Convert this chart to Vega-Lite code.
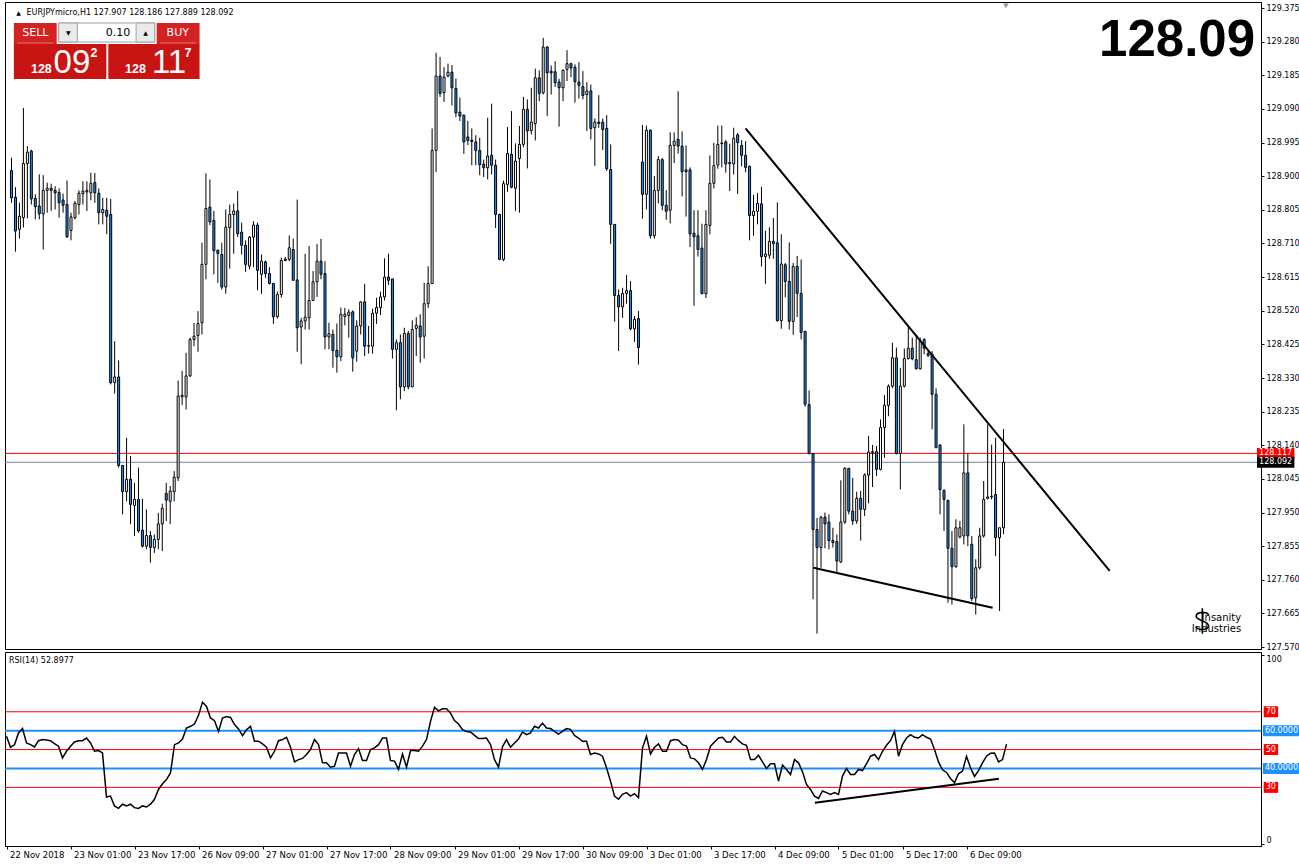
{
"$schema": "https://vega.github.io/schema/vega-lite/v6.json",
"usermeta": {"embedOptions": {"actions": false}},
"background": "white",
"padding": {"left": 3, "top": 1, "right": 0, "bottom": 0},
"spacing": 3,
"bounds": "flush",
"config": {"view": {"stroke": "#000", "strokeWidth": 1}, "axis": {"labelFont": "DejaVu Sans", "labelFontSize": 8, "labelColor": "#000", "domainColor": "#000", "tickColor": "#000", "grid": false, "labelOverlap": false}},
"datasets": {"bars": [
{"i":0,"o":128.916,"h":128.952,"l":128.825,"c":128.839,"r":57.0},
{"i":1,"o":128.841,"h":128.869,"l":128.687,"c":128.745,"r":51.2},
{"i":2,"o":128.750,"h":128.825,"l":128.724,"c":128.787,"r":52.6},
{"i":3,"o":128.783,"h":129.093,"l":128.755,"c":128.936,"r":58.8},
{"i":4,"o":128.936,"h":128.985,"l":128.781,"c":128.968,"r":61.1},
{"i":5,"o":128.971,"h":128.975,"l":128.820,"c":128.836,"r":53.5},
{"i":6,"o":128.837,"h":128.849,"l":128.778,"c":128.814,"r":52.6},
{"i":7,"o":128.816,"h":128.905,"l":128.778,"c":128.794,"r":51.4},
{"i":8,"o":128.794,"h":128.903,"l":128.693,"c":128.860,"r":54.7},
{"i":9,"o":128.860,"h":128.882,"l":128.797,"c":128.866,"r":55.3},
{"i":10,"o":128.866,"h":128.879,"l":128.802,"c":128.860,"r":55.1},
{"i":11,"o":128.860,"h":128.872,"l":128.806,"c":128.853,"r":54.7},
{"i":12,"o":128.854,"h":128.866,"l":128.783,"c":128.825,"r":53.2},
{"i":13,"o":128.833,"h":128.851,"l":128.797,"c":128.818,"r":51.8},
{"i":14,"o":128.820,"h":128.888,"l":128.726,"c":128.729,"r":45.6},
{"i":15,"o":128.747,"h":128.797,"l":128.719,"c":128.785,"r":49.1},
{"i":16,"o":128.783,"h":128.830,"l":128.778,"c":128.824,"r":51.8},
{"i":17,"o":128.820,"h":128.860,"l":128.792,"c":128.852,"r":54.0},
{"i":18,"o":128.851,"h":128.886,"l":128.820,"c":128.858,"r":54.7},
{"i":19,"o":128.856,"h":128.886,"l":128.802,"c":128.860,"r":54.7},
{"i":20,"o":128.853,"h":128.910,"l":128.832,"c":128.880,"r":56.1},
{"i":21,"o":128.882,"h":128.909,"l":128.825,"c":128.853,"r":53.5},
{"i":22,"o":128.852,"h":128.866,"l":128.764,"c":128.797,"r":49.1},
{"i":23,"o":128.797,"h":128.839,"l":128.764,"c":128.806,"r":49.5},
{"i":24,"o":128.804,"h":128.839,"l":128.736,"c":128.787,"r":48.2},
{"i":25,"o":128.792,"h":128.836,"l":128.312,"c":128.317,"r":24.9},
{"i":26,"o":128.317,"h":128.434,"l":128.286,"c":128.333,"r":25.4},
{"i":27,"o":128.333,"h":128.380,"l":128.077,"c":128.083,"r":20.2},
{"i":28,"o":128.083,"h":128.083,"l":127.945,"c":128.009,"r":18.9},
{"i":29,"o":128.009,"h":128.161,"l":127.982,"c":128.044,"r":21.1},
{"i":30,"o":128.044,"h":128.110,"l":127.917,"c":127.973,"r":20.2},
{"i":31,"o":127.970,"h":128.034,"l":127.884,"c":127.987,"r":21.1},
{"i":32,"o":127.987,"h":128.077,"l":127.893,"c":127.898,"r":19.3},
{"i":33,"o":127.900,"h":127.989,"l":127.851,"c":127.855,"r":18.9},
{"i":34,"o":127.855,"h":127.959,"l":127.846,"c":127.885,"r":20.2},
{"i":35,"o":127.885,"h":127.898,"l":127.808,"c":127.851,"r":19.6},
{"i":36,"o":127.851,"h":127.888,"l":127.836,"c":127.874,"r":21.1},
{"i":37,"o":127.874,"h":127.949,"l":127.846,"c":127.918,"r":23.7},
{"i":38,"o":127.918,"h":127.975,"l":127.841,"c":127.962,"r":28.9},
{"i":39,"o":128.004,"h":128.034,"l":127.926,"c":127.985,"r":31.9},
{"i":40,"o":127.982,"h":128.025,"l":127.917,"c":128.011,"r":34.2},
{"i":41,"o":128.009,"h":128.067,"l":127.982,"c":128.050,"r":37.7},
{"i":42,"o":128.048,"h":128.323,"l":128.039,"c":128.279,"r":52.6},
{"i":43,"o":128.277,"h":128.350,"l":128.254,"c":128.281,"r":53.5},
{"i":44,"o":128.277,"h":128.401,"l":128.241,"c":128.336,"r":55.6},
{"i":45,"o":128.336,"h":128.444,"l":128.333,"c":128.439,"r":61.4},
{"i":46,"o":128.439,"h":128.486,"l":128.420,"c":128.448,"r":62.3},
{"i":47,"o":128.450,"h":128.519,"l":128.404,"c":128.484,"r":63.5},
{"i":48,"o":128.486,"h":128.712,"l":128.453,"c":128.651,"r":68.1},
{"i":49,"o":128.651,"h":128.908,"l":128.609,"c":128.809,"r":75.1},
{"i":50,"o":128.813,"h":128.891,"l":128.762,"c":128.771,"r":72.8},
{"i":51,"o":128.775,"h":128.802,"l":128.623,"c":128.690,"r":66.7},
{"i":52,"o":128.691,"h":128.693,"l":128.599,"c":128.682,"r":65.3},
{"i":53,"o":128.679,"h":128.712,"l":128.580,"c":128.587,"r":59.6},
{"i":54,"o":128.587,"h":128.806,"l":128.568,"c":128.756,"r":66.7},
{"i":55,"o":128.755,"h":128.820,"l":128.639,"c":128.792,"r":67.5},
{"i":56,"o":128.792,"h":128.823,"l":128.681,"c":128.802,"r":67.0},
{"i":57,"o":128.802,"h":128.858,"l":128.728,"c":128.738,"r":63.2},
{"i":58,"o":128.742,"h":128.769,"l":128.679,"c":128.705,"r":60.9},
{"i":59,"o":128.705,"h":128.719,"l":128.630,"c":128.651,"r":57.4},
{"i":60,"o":128.646,"h":128.731,"l":128.637,"c":128.728,"r":60.5},
{"i":61,"o":128.728,"h":128.773,"l":128.643,"c":128.762,"r":62.3},
{"i":62,"o":128.762,"h":128.769,"l":128.578,"c":128.634,"r":54.4},
{"i":63,"o":128.623,"h":128.679,"l":128.568,"c":128.660,"r":54.4},
{"i":64,"o":128.658,"h":128.662,"l":128.613,"c":128.625,"r":53.0},
{"i":65,"o":128.625,"h":128.643,"l":128.594,"c":128.597,"r":51.2},
{"i":66,"o":128.597,"h":128.599,"l":128.483,"c":128.503,"r":45.6},
{"i":67,"o":128.503,"h":128.574,"l":128.498,"c":128.566,"r":49.1},
{"i":68,"o":128.566,"h":128.670,"l":128.557,"c":128.662,"r":54.7},
{"i":69,"o":128.666,"h":128.672,"l":128.660,"c":128.662,"r":55.3},
{"i":70,"o":128.665,"h":128.733,"l":128.660,"c":128.698,"r":56.5},
{"i":71,"o":128.693,"h":128.724,"l":128.606,"c":128.606,"r":51.2},
{"i":72,"o":128.607,"h":128.834,"l":128.404,"c":128.472,"r":43.5},
{"i":73,"o":128.474,"h":128.500,"l":128.369,"c":128.491,"r":44.7},
{"i":74,"o":128.491,"h":128.681,"l":128.467,"c":128.502,"r":45.3},
{"i":75,"o":128.500,"h":128.703,"l":128.467,"c":128.549,"r":47.4},
{"i":76,"o":128.549,"h":128.632,"l":128.549,"c":128.602,"r":50.0},
{"i":77,"o":128.602,"h":128.709,"l":128.559,"c":128.660,"r":55.3},
{"i":78,"o":128.660,"h":128.723,"l":128.609,"c":128.623,"r":52.6},
{"i":79,"o":128.625,"h":128.660,"l":128.411,"c":128.446,"r":43.0},
{"i":80,"o":128.446,"h":128.486,"l":128.411,"c":128.455,"r":43.0},
{"i":81,"o":128.453,"h":128.467,"l":128.359,"c":128.408,"r":40.7},
{"i":82,"o":128.408,"h":128.484,"l":128.345,"c":128.390,"r":41.2},
{"i":83,"o":128.390,"h":128.529,"l":128.378,"c":128.510,"r":48.2},
{"i":84,"o":128.504,"h":128.528,"l":128.479,"c":128.510,"r":48.2},
{"i":85,"o":128.507,"h":128.524,"l":128.444,"c":128.516,"r":48.2},
{"i":86,"o":128.517,"h":128.521,"l":128.348,"c":128.387,"r":41.2},
{"i":87,"o":128.406,"h":128.493,"l":128.376,"c":128.477,"r":47.4},
{"i":88,"o":128.477,"h":128.547,"l":128.453,"c":128.545,"r":50.5},
{"i":89,"o":128.545,"h":128.596,"l":128.392,"c":128.420,"r":44.2},
{"i":90,"o":128.420,"h":128.477,"l":128.399,"c":128.422,"r":44.2},
{"i":91,"o":128.420,"h":128.526,"l":128.399,"c":128.513,"r":50.0},
{"i":92,"o":128.513,"h":128.557,"l":128.483,"c":128.529,"r":50.9},
{"i":93,"o":128.529,"h":128.574,"l":128.508,"c":128.559,"r":52.6},
{"i":94,"o":128.559,"h":128.668,"l":128.549,"c":128.615,"r":56.1},
{"i":95,"o":128.615,"h":128.681,"l":128.593,"c":128.606,"r":56.1},
{"i":96,"o":128.610,"h":128.610,"l":128.385,"c":128.411,"r":44.2},
{"i":97,"o":128.411,"h":128.439,"l":128.239,"c":128.430,"r":43.9},
{"i":98,"o":128.430,"h":128.453,"l":128.270,"c":128.305,"r":39.5},
{"i":99,"o":128.305,"h":128.472,"l":128.293,"c":128.456,"r":47.7},
{"i":100,"o":128.456,"h":128.463,"l":128.298,"c":128.305,"r":40.7},
{"i":101,"o":128.305,"h":128.493,"l":128.305,"c":128.467,"r":49.5},
{"i":102,"o":128.470,"h":128.502,"l":128.392,"c":128.479,"r":49.5},
{"i":103,"o":128.477,"h":128.510,"l":128.373,"c":128.446,"r":49.1},
{"i":104,"o":128.448,"h":128.599,"l":128.385,"c":128.540,"r":51.8},
{"i":105,"o":128.540,"h":128.646,"l":128.528,"c":128.597,"r":55.3},
{"i":106,"o":128.597,"h":129.035,"l":128.597,"c":128.973,"r":64.9},
{"i":107,"o":128.973,"h":129.249,"l":128.912,"c":129.183,"r":72.3},
{"i":108,"o":129.183,"h":129.237,"l":129.124,"c":129.134,"r":70.5},
{"i":109,"o":129.136,"h":129.208,"l":129.110,"c":129.180,"r":71.6},
{"i":110,"o":129.183,"h":129.218,"l":129.180,"c":129.194,"r":71.6},
{"i":111,"o":129.194,"h":129.214,"l":129.100,"c":129.150,"r":69.3},
{"i":112,"o":129.148,"h":129.176,"l":129.067,"c":129.079,"r":65.3},
{"i":113,"o":129.081,"h":129.122,"l":129.056,"c":129.070,"r":63.5},
{"i":114,"o":129.072,"h":129.075,"l":128.963,"c":128.997,"r":60.5},
{"i":115,"o":129.011,"h":129.056,"l":128.988,"c":129.001,"r":59.6},
{"i":116,"o":129.002,"h":129.035,"l":128.931,"c":128.998,"r":59.3},
{"i":117,"o":128.997,"h":129.016,"l":128.931,"c":128.973,"r":57.5},
{"i":118,"o":128.973,"h":129.009,"l":128.903,"c":128.933,"r":55.8},
{"i":119,"o":128.934,"h":128.947,"l":128.898,"c":128.924,"r":55.8},
{"i":120,"o":128.924,"h":129.065,"l":128.891,"c":128.957,"r":56.1},
{"i":121,"o":128.959,"h":129.105,"l":128.905,"c":128.931,"r":52.6},
{"i":122,"o":128.931,"h":128.947,"l":128.754,"c":128.792,"r":44.7},
{"i":123,"o":128.792,"h":128.794,"l":128.663,"c":128.665,"r":40.7},
{"i":124,"o":128.665,"h":128.888,"l":128.660,"c":128.879,"r":51.5},
{"i":125,"o":128.877,"h":129.039,"l":128.856,"c":128.964,"r":55.3},
{"i":126,"o":128.962,"h":129.084,"l":128.866,"c":128.869,"r":51.2},
{"i":127,"o":128.866,"h":128.993,"l":128.802,"c":128.943,"r":53.5},
{"i":128,"o":128.950,"h":129.042,"l":128.797,"c":128.990,"r":55.6},
{"i":129,"o":128.990,"h":129.124,"l":128.982,"c":129.089,"r":59.3},
{"i":130,"o":129.089,"h":129.117,"l":128.922,"c":129.028,"r":57.9},
{"i":131,"o":129.029,"h":129.150,"l":129.018,"c":129.053,"r":58.8},
{"i":132,"o":129.049,"h":129.204,"l":129.001,"c":129.178,"r":62.3},
{"i":133,"o":129.178,"h":129.199,"l":129.112,"c":129.134,"r":61.4},
{"i":134,"o":129.136,"h":129.291,"l":129.131,"c":129.265,"r":64.0},
{"i":135,"o":129.265,"h":129.268,"l":129.070,"c":129.192,"r":61.4},
{"i":136,"o":129.197,"h":129.213,"l":129.131,"c":129.192,"r":61.1},
{"i":137,"o":129.195,"h":129.225,"l":129.152,"c":129.164,"r":59.6},
{"i":138,"o":129.166,"h":129.175,"l":129.040,"c":129.150,"r":58.2},
{"i":139,"o":129.150,"h":129.202,"l":129.112,"c":129.199,"r":59.6},
{"i":140,"o":129.202,"h":129.256,"l":129.169,"c":129.218,"r":61.1},
{"i":141,"o":129.218,"h":129.221,"l":129.180,"c":129.206,"r":60.7},
{"i":142,"o":129.208,"h":129.216,"l":129.108,"c":129.167,"r":57.5},
{"i":143,"o":129.166,"h":129.222,"l":129.119,"c":129.157,"r":56.1},
{"i":144,"o":129.153,"h":129.197,"l":129.117,"c":129.128,"r":54.4},
{"i":145,"o":129.131,"h":129.166,"l":129.028,"c":129.141,"r":54.4},
{"i":146,"o":129.141,"h":129.159,"l":129.004,"c":129.035,"r":47.4},
{"i":147,"o":129.037,"h":129.063,"l":128.929,"c":129.053,"r":48.2},
{"i":148,"o":129.053,"h":129.129,"l":129.037,"c":129.049,"r":47.7},
{"i":149,"o":129.053,"h":129.063,"l":128.974,"c":129.032,"r":46.5},
{"i":150,"o":129.035,"h":129.073,"l":128.915,"c":128.921,"r":40.4},
{"i":151,"o":128.919,"h":128.990,"l":128.709,"c":128.764,"r":33.3},
{"i":152,"o":128.764,"h":128.764,"l":128.489,"c":128.563,"r":25.4},
{"i":153,"o":128.563,"h":128.580,"l":128.406,"c":128.531,"r":23.7},
{"i":154,"o":128.531,"h":128.585,"l":128.500,"c":128.569,"r":26.3},
{"i":155,"o":128.569,"h":128.621,"l":128.540,"c":128.577,"r":27.2},
{"i":156,"o":128.577,"h":128.604,"l":128.465,"c":128.469,"r":25.4},
{"i":157,"o":128.469,"h":128.505,"l":128.432,"c":128.496,"r":26.7},
{"i":158,"o":128.498,"h":128.519,"l":128.368,"c":128.416,"r":24.6},
{"i":159,"o":128.940,"h":129.045,"l":128.780,"c":128.849,"r":50.9},
{"i":160,"o":128.849,"h":129.043,"l":128.806,"c":129.030,"r":57.0},
{"i":161,"o":129.030,"h":129.032,"l":128.724,"c":128.732,"r":47.7},
{"i":162,"o":128.732,"h":128.901,"l":128.724,"c":128.860,"r":51.2},
{"i":163,"o":128.860,"h":128.957,"l":128.823,"c":128.947,"r":53.0},
{"i":164,"o":128.947,"h":128.952,"l":128.804,"c":128.818,"r":49.1},
{"i":165,"o":128.818,"h":128.861,"l":128.777,"c":128.801,"r":49.1},
{"i":166,"o":128.804,"h":129.024,"l":128.767,"c":128.987,"r":54.7},
{"i":167,"o":128.987,"h":129.024,"l":128.937,"c":128.999,"r":55.3},
{"i":168,"o":129.004,"h":129.140,"l":128.964,"c":128.985,"r":54.9},
{"i":169,"o":128.985,"h":129.027,"l":128.843,"c":128.913,"r":52.6},
{"i":170,"o":128.918,"h":128.987,"l":128.786,"c":128.913,"r":51.8},
{"i":171,"o":128.918,"h":128.925,"l":128.700,"c":128.737,"r":45.6},
{"i":172,"o":128.739,"h":128.804,"l":128.534,"c":128.729,"r":45.1},
{"i":173,"o":128.732,"h":128.804,"l":128.673,"c":128.693,"r":43.0},
{"i":174,"o":128.697,"h":128.766,"l":128.568,"c":128.568,"r":39.5},
{"i":175,"o":128.568,"h":128.804,"l":128.556,"c":128.764,"r":44.7},
{"i":176,"o":128.761,"h":128.959,"l":128.736,"c":128.880,"r":51.8},
{"i":177,"o":128.880,"h":128.994,"l":128.865,"c":128.930,"r":54.0},
{"i":178,"o":128.932,"h":129.043,"l":128.921,"c":128.990,"r":56.1},
{"i":179,"o":128.992,"h":129.043,"l":128.925,"c":128.994,"r":56.5},
{"i":180,"o":128.997,"h":129.002,"l":128.910,"c":128.935,"r":54.0},
{"i":181,"o":128.935,"h":128.992,"l":128.858,"c":128.939,"r":54.0},
{"i":182,"o":128.935,"h":129.037,"l":128.905,"c":129.007,"r":57.0},
{"i":183,"o":129.017,"h":129.022,"l":128.850,"c":128.995,"r":54.7},
{"i":184,"o":128.987,"h":129.002,"l":128.928,"c":128.959,"r":53.0},
{"i":185,"o":128.959,"h":128.999,"l":128.911,"c":128.925,"r":52.3},
{"i":186,"o":128.928,"h":128.930,"l":128.719,"c":128.789,"r":44.7},
{"i":187,"o":128.789,"h":128.848,"l":128.732,"c":128.801,"r":44.7},
{"i":188,"o":128.801,"h":128.853,"l":128.764,"c":128.823,"r":47.0},
{"i":189,"o":128.822,"h":128.870,"l":128.645,"c":128.673,"r":43.5},
{"i":190,"o":128.673,"h":128.746,"l":128.596,"c":128.680,"r":40.0},
{"i":191,"o":128.677,"h":128.756,"l":128.667,"c":128.716,"r":42.5},
{"i":192,"o":128.716,"h":128.782,"l":128.667,"c":128.710,"r":42.5},
{"i":193,"o":128.712,"h":128.826,"l":128.489,"c":128.492,"r":33.3},
{"i":194,"o":128.492,"h":128.736,"l":128.469,"c":128.652,"r":41.8},
{"i":195,"o":128.650,"h":128.655,"l":128.558,"c":128.603,"r":39.5},
{"i":196,"o":128.603,"h":128.713,"l":128.467,"c":128.490,"r":36.8},
{"i":197,"o":128.490,"h":128.655,"l":128.452,"c":128.645,"r":44.7},
{"i":198,"o":128.645,"h":128.675,"l":128.502,"c":128.569,"r":43.0},
{"i":199,"o":128.569,"h":128.665,"l":128.439,"c":128.459,"r":38.2},
{"i":200,"o":128.462,"h":128.462,"l":128.249,"c":128.256,"r":31.6},
{"i":201,"o":128.255,"h":128.295,"l":128.114,"c":128.117,"r":28.9},
{"i":202,"o":128.117,"h":128.117,"l":127.705,"c":127.902,"r":25.4},
{"i":203,"o":127.902,"h":127.935,"l":127.608,"c":127.851,"r":24.2},
{"i":204,"o":127.851,"h":127.940,"l":127.794,"c":127.937,"r":28.1},
{"i":205,"o":127.937,"h":127.950,"l":127.849,"c":127.918,"r":27.2},
{"i":206,"o":127.923,"h":127.945,"l":127.846,"c":127.871,"r":26.3},
{"i":207,"o":127.871,"h":127.907,"l":127.851,"c":127.865,"r":27.2},
{"i":208,"o":127.868,"h":127.888,"l":127.780,"c":127.813,"r":26.3},
{"i":209,"o":127.810,"h":128.041,"l":127.808,"c":127.923,"r":36.0},
{"i":210,"o":127.923,"h":128.078,"l":127.918,"c":128.075,"r":40.0},
{"i":211,"o":128.075,"h":128.076,"l":127.945,"c":127.954,"r":36.8},
{"i":212,"o":127.954,"h":128.048,"l":127.915,"c":127.926,"r":36.8},
{"i":213,"o":127.926,"h":128.009,"l":127.918,"c":127.990,"r":39.5},
{"i":214,"o":127.990,"h":128.011,"l":127.871,"c":127.959,"r":38.9},
{"i":215,"o":127.959,"h":128.061,"l":127.940,"c":128.056,"r":42.5},
{"i":216,"o":128.056,"h":128.166,"l":127.976,"c":128.121,"r":46.5},
{"i":217,"o":128.119,"h":128.141,"l":128.022,"c":128.122,"r":47.4},
{"i":218,"o":128.122,"h":128.138,"l":128.053,"c":128.072,"r":44.7},
{"i":219,"o":128.072,"h":128.213,"l":128.069,"c":128.190,"r":49.1},
{"i":220,"o":128.190,"h":128.282,"l":128.105,"c":128.253,"r":52.3},
{"i":221,"o":128.253,"h":128.312,"l":128.222,"c":128.307,"r":54.7},
{"i":222,"o":128.307,"h":128.430,"l":128.301,"c":128.387,"r":59.6},
{"i":223,"o":128.387,"h":128.416,"l":128.114,"c":128.117,"r":46.5},
{"i":224,"o":128.117,"h":128.359,"l":128.015,"c":128.307,"r":52.6},
{"i":225,"o":128.307,"h":128.413,"l":128.303,"c":128.385,"r":56.1},
{"i":226,"o":128.385,"h":128.477,"l":128.382,"c":128.414,"r":57.9},
{"i":227,"o":128.414,"h":128.444,"l":128.380,"c":128.384,"r":56.5},
{"i":228,"o":128.382,"h":128.453,"l":128.354,"c":128.356,"r":56.1},
{"i":229,"o":128.356,"h":128.444,"l":128.354,"c":128.434,"r":57.9},
{"i":230,"o":128.439,"h":128.442,"l":128.397,"c":128.414,"r":56.5},
{"i":231,"o":128.399,"h":128.406,"l":128.390,"c":128.393,"r":55.6},
{"i":232,"o":128.397,"h":128.406,"l":128.185,"c":128.284,"r":50.0},
{"i":233,"o":128.284,"h":128.301,"l":128.133,"c":128.133,"r":43.5},
{"i":234,"o":128.141,"h":128.142,"l":127.945,"c":128.015,"r":39.3},
{"i":235,"o":128.013,"h":128.015,"l":127.898,"c":127.987,"r":37.9},
{"i":236,"o":127.984,"h":127.987,"l":127.695,"c":127.849,"r":34.7},
{"i":237,"o":127.849,"h":127.898,"l":127.690,"c":127.797,"r":32.5},
{"i":238,"o":127.797,"h":127.931,"l":127.794,"c":127.907,"r":37.2},
{"i":239,"o":127.881,"h":127.926,"l":127.877,"c":127.907,"r":38.6},
{"i":240,"o":127.884,"h":128.199,"l":127.860,"c":128.062,"r":46.5},
{"i":241,"o":128.062,"h":128.116,"l":127.855,"c":127.884,"r":40.4},
{"i":242,"o":127.860,"h":127.884,"l":127.700,"c":127.707,"r":35.8},
{"i":243,"o":127.709,"h":127.818,"l":127.662,"c":127.794,"r":38.9},
{"i":244,"o":127.794,"h":127.907,"l":127.789,"c":127.884,"r":43.0},
{"i":245,"o":127.884,"h":128.039,"l":127.879,"c":127.987,"r":46.5},
{"i":246,"o":127.990,"h":128.199,"l":127.987,"c":127.994,"r":48.1},
{"i":247,"o":127.994,"h":128.142,"l":127.987,"c":127.996,"r":48.2},
{"i":248,"o":128.001,"h":128.161,"l":127.827,"c":127.879,"r":43.5},
{"i":249,"o":127.879,"h":127.907,"l":127.672,"c":127.907,"r":44.7},
{"i":250,"o":127.907,"h":128.186,"l":127.889,"c":128.092,"r":52.9}
]},
"vconcat": [
{
 "width": 1256, "height": 647,
 "layer": [
  {"data": {"values": [{}]}, "mark": {"type": "rule", "color": "#FF0000", "strokeWidth": 1}, "encoding": {"y": {"datum": 128.117}}},
  {"data": {"values": [{}]}, "mark": {"type": "rule", "color": "#7A8794", "strokeWidth": 1}, "encoding": {"y": {"datum": 128.092}}},
  {"data": {"name": "bars"}, "mark": {"type": "rule", "color": "#000", "strokeWidth": 1},
   "encoding": {
    "x": {"field": "i", "type": "quantitative", "scale": {"domain": [-0.375, 313.625], "nice": false, "zero": false}, "axis": null},
    "y": {"field": "l", "type": "quantitative", "title": null, "scale": {"domain": [127.5645, 129.3922], "nice": false, "zero": false},
      "axis": {"orient": "right", "title": null, "format": ".3f", "labelOverlap": false, "labelFlush": false, "tickSize": 3, "labelPadding": 2, "tickCount": 40,
        "values": [127.57, 127.665, 127.76, 127.855, 127.95, 128.045, 128.14, 128.235, 128.33, 128.425, 128.52, 128.615, 128.71, 128.805, 128.9, 128.995, 129.09, 129.185, 129.28, 129.375]}},
    "y2": {"field": "h"}
   }},
  {"data": {"name": "bars"}, "mark": {"type": "bar", "size": 2, "stroke": "#000", "strokeWidth": 1},
   "encoding": {
    "x": {"field": "i", "type": "quantitative", "axis": null},
    "y": {"field": "o", "type": "quantitative", "title": null},
    "y2": {"field": "c"},
    "fill": {"condition": {"test": "datum.c >= datum.o", "value": "#FFFFFF"}, "value": "#1E90FF"}
   }},
  {"data": {"values": [{"line": "upper", "i": 185, "p": 129.035}, {"line": "upper", "i": 276.75, "p": 127.785}, {"line": "lower", "i": 202.1, "p": 127.794}, {"line": "lower", "i": 247.25, "p": 127.681}]},
   "mark": {"type": "line", "color": "#000", "strokeWidth": 2},
   "encoding": {"x": {"field": "i", "type": "quantitative", "axis": null}, "y": {"field": "p", "type": "quantitative", "title": null}, "detail": {"field": "line"}}},
  {"data": {"values": [{}]}, "mark": {"type": "rect", "color": "#FF0000"}, "encoding": {"x": {"datum": 313.875, "axis": null}, "x2": {"datum": 323.3}, "y": {"datum": 128.1325}, "y2": {"datum": 128.1015}}},
  {"data": {"values": [{}]}, "mark": {"type": "text", "text": "128.117", "align": "left", "baseline": "middle", "font": "DejaVu Sans", "fontSize": 8, "color": "#FFFFFF"}, "encoding": {"x": {"datum": 314.4, "axis": null}, "y": {"datum": 128.117}}},
  {"data": {"values": [{}]}, "mark": {"type": "rect", "color": "#000000"}, "encoding": {"x": {"datum": 313.875, "axis": null}, "x2": {"datum": 323.3}, "y": {"datum": 128.1075}, "y2": {"datum": 128.0765}}},
  {"data": {"values": [{}]}, "mark": {"type": "text", "text": "128.092", "align": "left", "baseline": "middle", "font": "DejaVu Sans", "fontSize": 8, "color": "#FFFFFF"}, "encoding": {"x": {"datum": 314.4, "axis": null}, "y": {"datum": 128.092}}},
  {"data": {"values": [{}]}, "mark": {"type": "point", "shape": "triangle-down", "size": 30, "filled": true, "opacity": 1, "color": "#8A96A0"}, "encoding": {"x": {"datum": 250.6, "axis": null}, "y": {"datum": 129.381}}},
  {"data": {"values": [{}]}, "mark": {"type": "text", "text": "▲", "align": "center", "baseline": "middle", "font": "DejaVu Sans", "fontSize": 6, "color": "#000"}, "encoding": {"x": {"datum": 1.8, "axis": null}, "y": {"datum": 129.361}}},
  {"data": {"values": [{}]}, "mark": {"type": "text", "text": "EURJPYmicro,H1  127.907 128.186 127.889 128.092", "align": "left", "baseline": "middle", "font": "DejaVu Sans", "fontSize": 8, "color": "#000"}, "encoding": {"x": {"datum": 3.8, "axis": null}, "y": {"datum": 129.361}}},
  {"data": {"values": [{}]}, "mark": {"type": "text", "text": "128.09", "align": "right", "baseline": "alphabetic", "font": "Liberation Sans", "fontWeight": "bold", "fontSize": 51, "color": "#000"}, "encoding": {"x": {"datum": 313.4, "axis": null}, "y": {"datum": 129.2397}}},
  {"data": {"values": [{}]}, "mark": {"type": "rect", "color": "#D42222"}, "encoding": {"x": {"datum": 0.6, "axis": null}, "x2": {"datum": 11.4}, "y": {"datum": 129.3329}, "y2": {"datum": 129.2736}}},
  {"data": {"values": [{}]}, "mark": {"type": "rect", "color": "#C91414"}, "encoding": {"x": {"datum": 0.6, "axis": null}, "x2": {"datum": 23.9}, "y": {"datum": 129.2736}, "y2": {"datum": 129.1747}}},
  {"data": {"values": [{}]}, "mark": {"type": "rect", "color": "#D42222"}, "encoding": {"x": {"datum": 36.6, "axis": null}, "x2": {"datum": 47.4}, "y": {"datum": 129.3329}, "y2": {"datum": 129.2736}}},
  {"data": {"values": [{}]}, "mark": {"type": "rect", "color": "#C91414"}, "encoding": {"x": {"datum": 24.4, "axis": null}, "x2": {"datum": 47.4}, "y": {"datum": 129.2736}, "y2": {"datum": 129.1747}}},
  {"data": {"values": [{}]}, "mark": {"type": "rule", "color": "#E87070", "strokeWidth": 1}, "encoding": {"x": {"datum": 1.5, "axis": null}, "x2": {"datum": 10.5}, "y": {"datum": 129.2764}}},
  {"data": {"values": [{}]}, "mark": {"type": "rule", "color": "#E87070", "strokeWidth": 1}, "encoding": {"x": {"datum": 37.5, "axis": null}, "x2": {"datum": 46.5}, "y": {"datum": 129.2764}}},
  {"data": {"values": [{}]}, "mark": {"type": "rect", "fill": "#FFFFFF", "stroke": "#A0A0A0", "strokeWidth": 1}, "encoding": {"x": {"datum": 11.9, "axis": null}, "x2": {"datum": 36.1}, "y": {"datum": 129.3329}, "y2": {"datum": 129.2792}}},
  {"data": {"values": [{}]}, "mark": {"type": "rect", "fill": "#EAEAEA", "stroke": "#A0A0A0", "strokeWidth": 1}, "encoding": {"x": {"datum": 11.9, "axis": null}, "x2": {"datum": 16.6}, "y": {"datum": 129.3329}, "y2": {"datum": 129.2792}}},
  {"data": {"values": [{}]}, "mark": {"type": "rect", "fill": "#EAEAEA", "stroke": "#A0A0A0", "strokeWidth": 1}, "encoding": {"x": {"datum": 31.4, "axis": null}, "x2": {"datum": 36.1}, "y": {"datum": 129.3329}, "y2": {"datum": 129.2792}}},
  {"data": {"values": [{}]}, "mark": {"type": "text", "text": "SELL", "align": "center", "baseline": "middle", "font": "DejaVu Sans", "fontSize": 11, "color": "#FFFFFF"}, "encoding": {"x": {"datum": 6.0, "axis": null}, "y": {"datum": 129.3046}}},
  {"data": {"values": [{}]}, "mark": {"type": "text", "text": "BUY", "align": "center", "baseline": "middle", "font": "DejaVu Sans", "fontSize": 11, "color": "#FFFFFF"}, "encoding": {"x": {"datum": 41.9, "axis": null}, "y": {"datum": 129.3046}}},
  {"data": {"values": [{}]}, "mark": {"type": "text", "text": "0.10", "align": "right", "baseline": "middle", "font": "DejaVu Sans", "fontSize": 11, "color": "#000"}, "encoding": {"x": {"datum": 29.9, "axis": null}, "y": {"datum": 129.3046}}},
  {"data": {"values": [{}]}, "mark": {"type": "text", "text": "▼", "align": "center", "baseline": "middle", "font": "DejaVu Sans", "fontSize": 6, "color": "#000"}, "encoding": {"x": {"datum": 14.3, "axis": null}, "y": {"datum": 129.3046}}},
  {"data": {"values": [{}]}, "mark": {"type": "text", "text": "▲", "align": "center", "baseline": "middle", "font": "DejaVu Sans", "fontSize": 6, "color": "#000"}, "encoding": {"x": {"datum": 33.8, "axis": null}, "y": {"datum": 129.3046}}},
  {"data": {"values": [{}]}, "mark": {"type": "text", "text": "128", "align": "left", "baseline": "alphabetic", "font": "Liberation Sans", "fontWeight": "bold", "fontSize": 12.5, "color": "#FFFFFF"}, "encoding": {"x": {"datum": 4.9, "axis": null}, "y": {"datum": 129.1916}}},
  {"data": {"values": [{}]}, "mark": {"type": "text", "text": "09", "align": "left", "baseline": "alphabetic", "font": "Liberation Sans", "fontSize": 33, "color": "#FFFFFF"}, "encoding": {"x": {"datum": 10.6, "axis": null}, "y": {"datum": 129.1916}}},
  {"data": {"values": [{}]}, "mark": {"type": "text", "text": "2", "align": "left", "baseline": "alphabetic", "font": "Liberation Sans", "fontWeight": "bold", "fontSize": 12.5, "color": "#FFFFFF"}, "encoding": {"x": {"datum": 19.9, "axis": null}, "y": {"datum": 129.2368}}},
  {"data": {"values": [{}]}, "mark": {"type": "text", "text": "128", "align": "left", "baseline": "alphabetic", "font": "Liberation Sans", "fontWeight": "bold", "fontSize": 12.5, "color": "#FFFFFF"}, "encoding": {"x": {"datum": 28.6, "axis": null}, "y": {"datum": 129.1916}}},
  {"data": {"values": [{}]}, "mark": {"type": "text", "text": "11", "align": "left", "baseline": "alphabetic", "font": "Liberation Sans", "fontSize": 33, "color": "#FFFFFF"}, "encoding": {"x": {"datum": 35.4, "axis": null}, "y": {"datum": 129.1916}}},
  {"data": {"values": [{}]}, "mark": {"type": "text", "text": "7", "align": "left", "baseline": "alphabetic", "font": "Liberation Sans", "fontWeight": "bold", "fontSize": 12.5, "color": "#FFFFFF"}, "encoding": {"x": {"datum": 43.6, "axis": null}, "y": {"datum": 129.2368}}},
  {"data": {"values": [{}]}, "mark": {"type": "point", "shape": "M0,-1.25L0,1.25M0.6,-0.55C0.6,-0.95,-0.6,-0.95,-0.6,-0.45C-0.6,0,0.6,0,0.6,0.45C0.6,0.95,-0.6,0.95,-0.6,0.55", "size": 420, "filled": false, "opacity": 1, "stroke": "#000", "strokeWidth": 1.6}, "encoding": {"x": {"datum": 300.1, "axis": null}, "y": {"datum": 127.6437}}},
  {"data": {"values": [{}]}, "mark": {"type": "text", "text": "Insanity", "align": "right", "baseline": "middle", "font": "DejaVu Sans", "fontSize": 10, "color": "#000"}, "encoding": {"x": {"datum": 309.9, "axis": null}, "y": {"datum": 127.6521}}},
  {"data": {"values": [{}]}, "mark": {"type": "text", "text": "Industries", "align": "right", "baseline": "middle", "font": "DejaVu Sans", "fontSize": 10, "color": "#000"}, "encoding": {"x": {"datum": 309.9, "axis": null}, "y": {"datum": 127.621}}}
 ]
},
{
 "width": 1256, "height": 194,
 "layer": [
  {"data": {"values": [{"lv": 70}, {"lv": 50}, {"lv": 30}]}, "mark": {"type": "rule", "color": "#FF0000", "strokeWidth": 1}, "encoding": {"y": {"field": "lv", "type": "quantitative", "title": null}}},
  {"data": {"values": [{"lv": 60}, {"lv": 40}]}, "mark": {"type": "rule", "color": "#1E90FF", "strokeWidth": 2}, "encoding": {"y": {"field": "lv", "type": "quantitative", "title": null}}},
  {"data": {"name": "bars"}, "mark": {"type": "line", "color": "#000", "strokeWidth": 1.5},
   "encoding": {
    "x": {"field": "i", "type": "quantitative", "title": null, "scale": {"domain": [-0.375, 313.625], "nice": false, "zero": false},
      "axis": {"title": null, "values": [0, 16, 32, 48, 64, 80, 96, 112, 128, 144, 160, 176, 192, 208, 224, 240], "tickCount": 40,
        "labelExpr": "['22 Nov 2018','23 Nov 01:00','23 Nov 17:00','26 Nov 09:00','27 Nov 01:00','27 Nov 17:00','28 Nov 09:00','29 Nov 01:00','29 Nov 17:00','30 Nov 09:00','3 Dec 01:00','3 Dec 17:00','4 Dec 09:00','5 Dec 01:00','5 Dec 17:00','6 Dec 09:00'][round(datum.value / 16)]",
        "labelAlign": "left", "labelOffset": 3, "labelFlush": false, "labelOverlap": false, "tickSize": 3, "labelPadding": 1, "labelBaseline": "top", "labelFontSize": 8.5}},
    "y": {"field": "r", "type": "quantitative", "title": null, "scale": {"domain": [-1, 101.6], "nice": false, "zero": false},
      "axis": {"orient": "right", "title": null, "values": [100, 0], "labelOverlap": false, "labelFlush": false, "tickSize": 3, "labelPadding": 2,
        "labelBaseline": {"condition": {"test": "datum.value == 100", "value": "top"}, "value": "bottom"}}}
   }},
  {"data": {"values": [{"i": 202.1, "v": 21.9}, {"i": 248.1, "v": 34.6}]}, "mark": {"type": "line", "color": "#000", "strokeWidth": 2},
   "encoding": {"x": {"field": "i", "type": "quantitative", "title": null}, "y": {"field": "v", "type": "quantitative", "title": null}}},
  {"data": {"values": [{}]}, "mark": {"type": "text", "text": "RSI(14) 52.8977", "align": "left", "baseline": "middle", "font": "DejaVu Sans", "fontSize": 8, "color": "#000"}, "encoding": {"x": {"datum": 0.6}, "y": {"datum": 96.84}}},
  {"data": {"values": [{}]}, "mark": {"type": "rect", "color": "#FF0000"}, "encoding": {"x": {"datum": 314.3}, "x2": {"datum": 317.9}, "y": {"datum": 72.91}, "y2": {"datum": 67.09}}},
  {"data": {"values": [{}]}, "mark": {"type": "text", "text": "70", "align": "left", "baseline": "middle", "font": "DejaVu Sans", "fontSize": 8, "color": "#FFFFFF"}, "encoding": {"x": {"datum": 314.8}, "y": {"datum": 70}}},
  {"data": {"values": [{}]}, "mark": {"type": "rect", "color": "#1E90FF"}, "encoding": {"x": {"datum": 314.1}, "x2": {"datum": 323.3}, "y": {"datum": 62.91}, "y2": {"datum": 57.09}}},
  {"data": {"values": [{}]}, "mark": {"type": "text", "text": "60.0000", "align": "left", "baseline": "middle", "font": "DejaVu Sans", "fontSize": 8, "color": "#FFFFFF"}, "encoding": {"x": {"datum": 314.6}, "y": {"datum": 60}}},
  {"data": {"values": [{}]}, "mark": {"type": "rect", "color": "#FF0000"}, "encoding": {"x": {"datum": 314.3}, "x2": {"datum": 317.9}, "y": {"datum": 52.91}, "y2": {"datum": 47.09}}},
  {"data": {"values": [{}]}, "mark": {"type": "text", "text": "50", "align": "left", "baseline": "middle", "font": "DejaVu Sans", "fontSize": 8, "color": "#FFFFFF"}, "encoding": {"x": {"datum": 314.8}, "y": {"datum": 50}}},
  {"data": {"values": [{}]}, "mark": {"type": "rect", "color": "#1E90FF"}, "encoding": {"x": {"datum": 314.1}, "x2": {"datum": 323.3}, "y": {"datum": 42.91}, "y2": {"datum": 37.09}}},
  {"data": {"values": [{}]}, "mark": {"type": "text", "text": "40.0000", "align": "left", "baseline": "middle", "font": "DejaVu Sans", "fontSize": 8, "color": "#FFFFFF"}, "encoding": {"x": {"datum": 314.6}, "y": {"datum": 40}}},
  {"data": {"values": [{}]}, "mark": {"type": "rect", "color": "#FF0000"}, "encoding": {"x": {"datum": 314.3}, "x2": {"datum": 317.9}, "y": {"datum": 32.91}, "y2": {"datum": 27.09}}},
  {"data": {"values": [{}]}, "mark": {"type": "text", "text": "30", "align": "left", "baseline": "middle", "font": "DejaVu Sans", "fontSize": 8, "color": "#FFFFFF"}, "encoding": {"x": {"datum": 314.8}, "y": {"datum": 30}}}
 ]
}
],
"resolve": {"scale": {"x": "independent", "y": "independent"}}
}
